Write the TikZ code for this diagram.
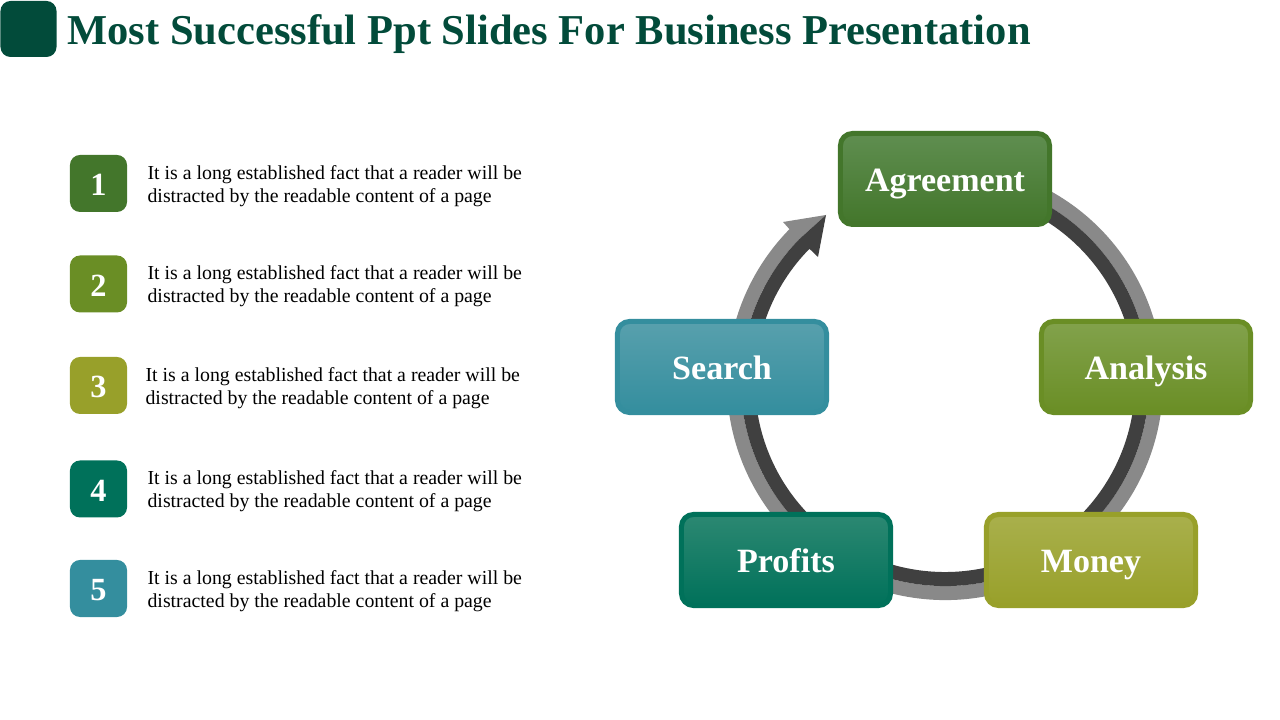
\documentclass[tikz,border=0pt]{standalone}
\usepackage{fontspec}
\setmainfont{Liberation Serif}
\usetikzlibrary{positioning}
\usetikzlibrary{calc}

\definecolor{headgreen}{HTML}{024B3A}
\definecolor{leafgreen}{HTML}{43762B}
\definecolor{leaflight}{HTML}{5F8E50}
\definecolor{olivegreen}{HTML}{6A8E25}
\definecolor{olivelight}{HTML}{82A24C}
\definecolor{mustard}{HTML}{98A02A}
\definecolor{mustardlight}{HTML}{A9B04C}
\definecolor{teal}{HTML}{00715A}
\definecolor{teallight}{HTML}{2C8872}
\definecolor{lagoon}{HTML}{348E9E}
\definecolor{lagoonlight}{HTML}{58A0AD}
\definecolor{ringgray}{HTML}{898989}
\definecolor{ringdark}{HTML}{404040}

\tikzset{
  stagebox/.style n args={2}{draw=#1, top color=#2, bottom color=#1, line width=0.125cm,
    rounded corners=0.3cm, minimum width=5.225cm, minimum height=2.275cm, inner sep=0pt,
    text=white, text height=0.75cm, text depth=0.1cm, font=\fontsize{24.2}{28}\selectfont\bfseries},
  numbox/.style={fill=#1, rounded corners=0.25cm, minimum size=1.425cm, inner sep=0pt,
    text=white, text height=0.65cm, text depth=0.025cm, font=\fontsize{23}{27}\selectfont\bfseries},
  blurb/.style={align=left, inner sep=0pt, yshift=-0.0625cm, font=\fontsize{14.1}{16.3}\selectfont}
}

\begin{document}
\begin{tikzpicture}[x=0.025cm,y=0.025cm]
  \useasboundingbox (0,0) rectangle (1280,720);

  % header
  \node (badge) [fill=headgreen, rounded corners=0.25cm, minimum size=1.4cm, inner sep=0pt] at (28.5,691) {};
  \node (title) [anchor=base west, inner sep=0pt, text=headgreen, font=\fontsize{30.25}{34}\selectfont\bfseries] at (67,675) {Most Successful Ppt Slides For Business Presentation};

  % numbered list
  \node (one)   [numbox=leafgreen]  at (98.5,536.5) {1};
  \node (two)   [numbox=olivegreen] at (98.5,436)   {2};
  \node (three) [numbox=mustard]    at (98.5,334.5) {3};
  \node (four)  [numbox=teal]       at (98.5,231)   {4};
  \node (five)  [numbox=lagoon]     at (98.5,131.5) {5};

  \node (onetext)   [blurb, right=0.5cm of one]    {It is a long established fact that a reader will be\\distracted by the readable content of a page};
  \node (twotext)   [blurb, right=0.5cm of two]    {It is a long established fact that a reader will be\\distracted by the readable content of a page};
  \node (threetext) [blurb, right=0.45cm of three] {It is a long established fact that a reader will be\\distracted by the readable content of a page};
  \node (fourtext)  [blurb, right=0.5cm of four]   {It is a long established fact that a reader will be\\distracted by the readable content of a page};
  \node (fivetext)  [blurb, right=0.5cm of five]   {It is a long established fact that a reader will be\\distracted by the readable content of a page};

  % ring with its arrow head
  \coordinate (hub) at (945,338);
  \coordinate (tip) at (826,505);
  \coordinate (graybarb) at (783,498);
  \coordinate (darkbarb) at (818,463);

  \fill [ringgray] ($(hub)+(80:5.45cm)$) arc [start angle=80, end angle=-224.5, radius=5.45cm]
    -- (graybarb) -- (tip) -- ($(hub)+(135.5:5.1cm)$)
    arc [start angle=-224.5, end angle=80, radius=5.1cm] -- cycle;
  \fill [ringdark] ($(hub)+(80:5.1cm)$) arc [start angle=80, end angle=-224.5, radius=5.1cm]
    -- (tip) -- (darkbarb) -- ($(hub)+(135.5:4.75cm)$)
    arc [start angle=-224.5, end angle=80, radius=4.75cm] -- cycle;

  % stages
  \node (agreement) [stagebox={leafgreen}{leaflight}]     at (945,541)  {Agreement};
  \node (analysis)  [stagebox={olivegreen}{olivelight}]   at (1146,353) {Analysis};
  \node (money)     [stagebox={mustard}{mustardlight}]    at (1091,160) {Money};
  \node (profits)   [stagebox={teal}{teallight}]          at (786,160)  {Profits};
  \node (search)    [stagebox={lagoon}{lagoonlight}]      at (722,353)  {Search};
\end{tikzpicture}
\end{document}
